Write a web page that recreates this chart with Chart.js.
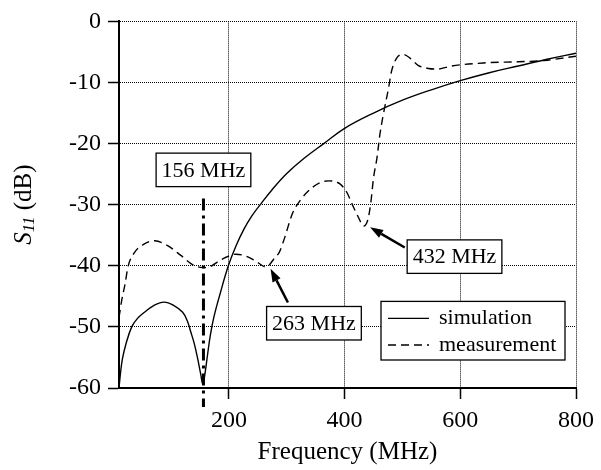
<!DOCTYPE html>
<html lang="en">
<head>
<meta charset="UTF-8">
<title>S11 vs frequency</title>
<script src="https://cdn.jsdelivr.net/npm/chart.js"></script>
<style>
  html, body { margin: 0; padding: 0; background: #fff; }
  #wrap { width: 601px; height: 470px; }
</style>
</head>
<body>
<div id="wrap"><canvas id="s11Chart" width="601" height="470"></canvas></div>
<script>
// values (MHz, dB)
const simFreq = [10, 13, 16, 22, 32, 42, 54, 70, 88, 105, 120, 128, 134, 140, 146, 151, 155, 159, 163, 168, 174, 185, 199, 212, 226, 240, 255, 275, 300, 330, 364, 400, 450, 500, 550, 600, 650, 700, 750, 800];
const simDb   = [-60, -57.2, -55.2, -52.8, -50, -48.6, -47.6, -46.5, -45.95, -46.5, -47.6, -49, -50.8, -52.7, -55.2, -57.6, -59.3, -57.4, -54.6, -51.3, -48.4, -44.5, -40, -36.8, -34, -31.8, -29.9, -27.5, -24.9, -22.4, -20, -17.5, -15, -12.9, -11.2, -9.7, -8.4, -7.3, -6.2, -5.2];

const measFreq = [10, 15, 20, 26, 37, 54, 72, 94, 117, 137, 155, 166, 183, 195, 212, 229, 246, 264, 280, 287, 295, 310, 324, 344, 360, 372, 392, 404, 413, 424, 433, 440, 445, 450, 456, 461, 467, 476, 481, 490, 501, 513, 527, 545, 560, 585, 640, 700, 745, 800];
const measDb   = [-48.5, -45.5, -43.2, -40, -37.8, -36.4, -35.9, -36.7, -38.3, -39.8, -40.3, -40.2, -39.2, -38.6, -38.1, -38.4, -39.2, -40.2, -38.6, -37.8, -35.8, -31.4, -29.2, -27.2, -26.3, -26.1, -26.6, -28, -29.9, -32.1, -33.5, -32.5, -29.9, -25.6, -22.3, -18.5, -15.2, -10.9, -8.2, -6, -5.4, -6, -7.2, -7.7, -7.8, -7.3, -6.8, -6.6, -6.4, -5.7];

const xTicks = [200, 400, 600, 800];
const yTicks = [0, -10, -20, -30, -40, -50, -60];

// dash-dot marker at the first resonance
const markerFreq = 156;
const markerTopDb = -29;

// boxed notes: text, box centre, arrow tip and tail (data units)
const noteText = ['156 MHz', '263 MHz', '432 MHz'];
const noteFreq = [156, 347, 590];
const noteDb   = [-24.3, -49.4, -38.5];
const arrowTip  = [null, [272, -40.5], [444, -33.7]];
const arrowTail = [null, [302, -46], [504, -37]];

const serif = "'Liberation Serif', 'DejaVu Serif', serif";

// y title with italic S and subscript 11
const yTitle = {
  id: 'yTitle',
  afterDraw(chart) {
    const ctx = chart.ctx, a = chart.chartArea;
    const big = 'italic 25px ' + serif, sub = 'italic 17px ' + serif, rest = '25px ' + serif;
    ctx.save();
    ctx.font = big; const wS = ctx.measureText('S').width;
    ctx.font = sub; const w11 = ctx.measureText('11').width;
    ctx.font = rest; const wR = ctx.measureText(' (dB)').width;
    ctx.translate(24, (a.top + a.bottom) / 2);
    ctx.rotate(-Math.PI / 2);
    ctx.fillStyle = '#000';
    ctx.textBaseline = 'middle';
    let x = -(wS + w11 + wR) / 2;
    ctx.font = big; ctx.fillText('S', x, 0); x += wS;
    ctx.font = sub; ctx.fillText('11', x, 6); x += w11;
    ctx.font = rest; ctx.fillText(' (dB)', x, 0);
    ctx.restore();
  }
};

function arrow(ctx, x1, y1, x2, y2) {
  const ang = Math.atan2(y2 - y1, x2 - x1), len = 13, hw = 4.5;
  const bx = x2 - len * Math.cos(ang), by = y2 - len * Math.sin(ang);
  ctx.beginPath();
  ctx.moveTo(x1, y1); ctx.lineTo(bx, by);
  ctx.lineWidth = 2.5; ctx.stroke();
  ctx.beginPath();
  ctx.moveTo(x2, y2);
  ctx.lineTo(bx + hw * Math.sin(ang), by - hw * Math.cos(ang));
  ctx.lineTo(bx - hw * Math.sin(ang), by + hw * Math.cos(ang));
  ctx.closePath(); ctx.fill();
}

const notes = {
  id: 'notes',
  afterDraw(chart) {
    const ctx = chart.ctx, xs = chart.scales.x, ys = chart.scales.y, a = chart.chartArea;
    ctx.save();
    ctx.strokeStyle = '#000'; ctx.fillStyle = '#000';

    // marker line
    const mx = xs.getPixelForValue(markerFreq);
    ctx.lineWidth = 3;
    ctx.setLineDash([12, 5, 3, 5]);
    ctx.beginPath();
    ctx.moveTo(mx, ys.getPixelForValue(markerTopDb));
    ctx.lineTo(mx, a.bottom + 19);
    ctx.stroke();
    ctx.setLineDash([]);

    // arrows
    arrowTip.forEach((t, i) => {
      if (!t) return;
      const s = arrowTail[i];
      arrow(ctx, xs.getPixelForValue(s[0]), ys.getPixelForValue(s[1]), xs.getPixelForValue(t[0]), ys.getPixelForValue(t[1]));
    });

    // boxes
    ctx.font = '22px ' + serif;
    ctx.textAlign = 'center'; ctx.textBaseline = 'middle';
    noteText.forEach((txt, i) => {
      const cx = xs.getPixelForValue(noteFreq[i]), cy = ys.getPixelForValue(noteDb[i]);
      const w = ctx.measureText(txt).width + 11, h = 33.5;
      ctx.fillStyle = '#fff';
      ctx.fillRect(cx - w / 2, cy - h / 2, w, h);
      ctx.lineWidth = 1.3;
      ctx.strokeRect(cx - w / 2, cy - h / 2, w, h);
      ctx.fillStyle = '#000';
      ctx.fillText(txt, cx, cy + 1);
    });
    ctx.restore();
  }
};

const legendBox = {
  id: 'legendBox',
  afterDraw(chart) {
    const ctx = chart.ctx, a = chart.chartArea;
    const w = 184, h = 58.6;
    const x = a.right - 11 - w, y = a.bottom - 28 - h;
    ctx.save();
    ctx.fillStyle = '#fff';
    ctx.fillRect(x, y, w, h);
    ctx.strokeStyle = '#000'; ctx.lineWidth = 1.3;
    ctx.strokeRect(x, y, w, h);
    ctx.font = '22px ' + serif;
    ctx.textBaseline = 'middle';
    chart.data.datasets.forEach((ds, i) => {
      const ry = y + 17 + i * 26.6;
      ctx.setLineDash(ds.borderDash || []);
      ctx.lineWidth = ds.borderWidth;
      ctx.beginPath(); ctx.moveTo(x + 7, ry); ctx.lineTo(x + 48, ry); ctx.stroke();
      ctx.setLineDash([]);
      ctx.fillStyle = '#000';
      ctx.fillText(ds.label, x + 58, ry);
    });
    ctx.restore();
  }
};

const ctx = document.getElementById('s11Chart').getContext('2d');
new Chart(ctx, {
  type: 'line',
  data: {
    datasets: [{
      label: 'simulation',
      data: simFreq.map((f, i) => ({ x: f, y: simDb[i] })),
      borderColor: '#000',
      borderWidth: 1.4,
      pointRadius: 0,
      tension: 0.4,
      fill: false
    }, {
      label: 'measurement',
      data: measFreq.map((f, i) => ({ x: f, y: measDb[i] })),
      borderColor: '#000',
      borderWidth: 1.4,
      borderDash: [8, 5],
      pointRadius: 0,
      cubicInterpolationMode: 'monotone',
      fill: false
    }]
  },
  options: {
    responsive: false,
    animation: false,
    devicePixelRatio: 1,
    layout: { padding: { top: 20, right: 22, left: 0, bottom: 0 } },
    plugins: { legend: { display: false }, tooltip: { enabled: false } },
    scales: {
      x: {
        type: 'linear', min: 10, max: 800,
        afterBuildTicks: s => { s.ticks = xTicks.map(v => ({ value: v })); },
        afterFit: s => { s.height = 82; },
        grid: { color: '#000', lineWidth: 1, tickLength: 11, tickColor: '#000', tickWidth: 1.5 },
        border: { display: true, color: '#000', width: 2, dash: [1, 1] },
        ticks: { color: '#000', font: { family: serif, size: 24 }, padding: 7, maxRotation: 0 },
        title: { display: true, text: 'Frequency (MHz)', color: '#000', font: { family: serif, size: 25 }, padding: { top: 0, bottom: 3 } }
      },
      y: {
        min: -60, max: 0,
        afterBuildTicks: s => { s.ticks = yTicks.map(v => ({ value: v })); },
        afterFit: s => { s.width = 119; },
        grid: { color: '#000', lineWidth: 1, tickLength: 11, tickColor: '#000', tickWidth: 1.5 },
        border: { display: true, color: '#000', width: 2, dash: [1, 1] },
        ticks: { color: '#000', font: { family: serif, size: 24 }, padding: 7 }
      }
    }
  },
  plugins: [yTitle, notes, legendBox]
});
</script>
</body>
</html>
